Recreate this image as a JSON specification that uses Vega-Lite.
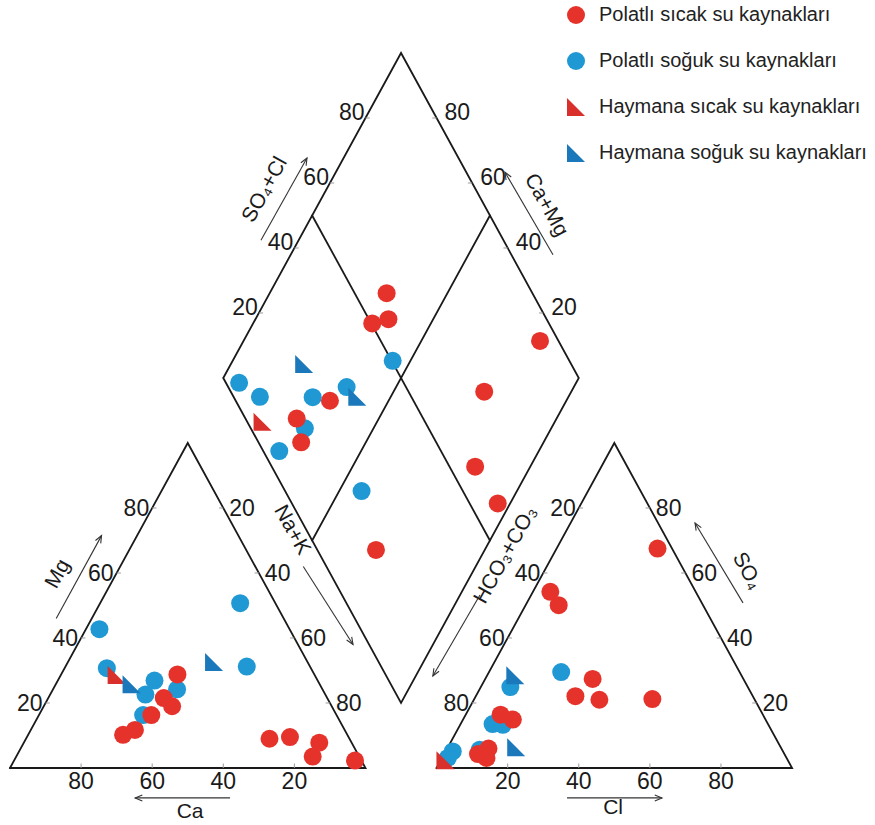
{
 "$schema": "https://vega.github.io/schema/vega-lite/v6.json",
 "width": 875, "height": 825, "padding": 0,
 "autosize": {"type": "fit", "contains": "padding"},
 "background": "white",
 "config": {"view": {"stroke": null}},
 "datasets": {
  "frame": [
   {"id":"cat","o":0,"p":"cat","a":0,"b":0},{"id":"cat","o":1,"p":"cat","a":100,"b":0},{"id":"cat","o":2,"p":"cat","a":0,"b":100},{"id":"cat","o":3,"p":"cat","a":0,"b":0},
   {"id":"an","o":0,"p":"an","a":0,"b":0},{"id":"an","o":1,"p":"an","a":100,"b":0},{"id":"an","o":2,"p":"an","a":0,"b":100},{"id":"an","o":3,"p":"an","a":0,"b":0},
   {"id":"dia","o":0,"p":"dia","a":0,"b":0},{"id":"dia","o":1,"p":"dia","a":100,"b":0},{"id":"dia","o":2,"p":"dia","a":100,"b":100},{"id":"dia","o":3,"p":"dia","a":0,"b":100},{"id":"dia","o":4,"p":"dia","a":0,"b":0},
   {"id":"d1","o":0,"p":"dia","a":50,"b":0},{"id":"d1","o":1,"p":"dia","a":50,"b":100},
   {"id":"d2","o":0,"p":"dia","a":0,"b":50},{"id":"d2","o":1,"p":"dia","a":100,"b":50}
  ],
  "lab": [
   {"p":"cat","e":"L","a":0,"b":20,"t":"20"},{"p":"cat","e":"L","a":0,"b":40,"t":"40"},{"p":"cat","e":"L","a":0,"b":60,"t":"60"},{"p":"cat","e":"L","a":0,"b":80,"t":"80"},
   {"p":"cat","e":"B","a":20,"b":0,"t":"80"},{"p":"cat","e":"B","a":40,"b":0,"t":"60"},{"p":"cat","e":"B","a":60,"b":0,"t":"40"},{"p":"cat","e":"B","a":80,"b":0,"t":"20"},
   {"p":"cat","e":"R","a":20,"b":80,"t":"20"},{"p":"cat","e":"R","a":40,"b":60,"t":"40"},{"p":"cat","e":"R","a":60,"b":40,"t":"60"},{"p":"cat","e":"R","a":80,"b":20,"t":"80"},
   {"p":"an","e":"L","a":0,"b":80,"t":"20"},{"p":"an","e":"L","a":0,"b":60,"t":"40"},{"p":"an","e":"L","a":0,"b":40,"t":"60"},{"p":"an","e":"L","a":0,"b":20,"t":"80"},
   {"p":"an","e":"B","a":20,"b":0,"t":"20"},{"p":"an","e":"B","a":40,"b":0,"t":"40"},{"p":"an","e":"B","a":60,"b":0,"t":"60"},{"p":"an","e":"B","a":80,"b":0,"t":"80"},
   {"p":"an","e":"R","a":20,"b":80,"t":"80"},{"p":"an","e":"R","a":40,"b":60,"t":"60"},{"p":"an","e":"R","a":60,"b":40,"t":"40"},{"p":"an","e":"R","a":80,"b":20,"t":"20"},
   {"p":"dia","e":"L","a":0,"b":20,"t":"20"},{"p":"dia","e":"L","a":0,"b":40,"t":"40"},{"p":"dia","e":"L","a":0,"b":60,"t":"60"},{"p":"dia","e":"L","a":0,"b":80,"t":"80"},
   {"p":"dia","e":"R","a":80,"b":100,"t":"20"},{"p":"dia","e":"R","a":60,"b":100,"t":"40"},{"p":"dia","e":"R","a":40,"b":100,"t":"60"},{"p":"dia","e":"R","a":20,"b":100,"t":"80"}
  ],
  "arrows": [
   {"p":"cat","a":-10,"b":46,"a2":-10,"b2":71.5},
   {"p":"cat","a":66.5,"b":-9.2,"a2":39.8,"b2":-9.2},
   {"p":"cat","a":51.5,"b":62,"a2":77.5,"b2":38},
   {"p":"an","a":-14.4,"b":53.2,"a2":-15.2,"b2":28.3},
   {"p":"an","a":60.8,"b":50.8,"a2":35.0,"b2":75.4},
   {"p":"an","a":41.3,"b":-9.2,"a2":68.0,"b2":-9.2},
   {"p":"dia","a":-10.6,"b":31.8,"a2":-10.3,"b2":57.4},
   {"p":"dia","a":73.8,"b":111.7,"a2":47.6,"b2":110.9}
  ],
  "pts": [
   {"p":"dia","g":"Polatlı soğuk su kaynakları","a":45.0,"b":50.3},
   {"p":"dia","g":"Polatlı soğuk su kaynakları","a":5.2,"b":3.7},
   {"p":"dia","g":"Polatlı soğuk su kaynakları","a":13.2,"b":7.4},
   {"p":"dia","g":"Polatlı soğuk su kaynakları","a":28.1,"b":22.2},
   {"p":"dia","g":"Polatlı soğuk su kaynakları","a":36.1,"b":33.3},
   {"p":"dia","g":"Polatlı soğuk su kaynakları","a":30.7,"b":15.2},
   {"p":"dia","g":"Polatlı soğuk su kaynakları","a":27.0,"b":4.5},
   {"p":"dia","g":"Polatlı soğuk su kaynakları","a":56.3,"b":21.5},
   {"p":"cat","g":"Polatlı soğuk su kaynakları","a":39.4,"b":50.7},
   {"p":"cat","g":"Polatlı soğuk su kaynakları","a":3.8,"b":42.7},
   {"p":"cat","g":"Polatlı soğuk su kaynakları","a":51.0,"b":31.2},
   {"p":"cat","g":"Polatlı soğuk su kaynakları","a":11.9,"b":30.7},
   {"p":"cat","g":"Polatlı soğuk su kaynakları","a":27.2,"b":26.9},
   {"p":"cat","g":"Polatlı soğuk su kaynakları","a":34.9,"b":24.2},
   {"p":"cat","g":"Polatlı soğuk su kaynakları","a":26.8,"b":22.6},
   {"p":"cat","g":"Polatlı soğuk su kaynakları","a":29.3,"b":16.3},
   {"p":"an","g":"Polatlı soğuk su kaynakları","a":20.3,"b":29.5},
   {"p":"an","g":"Polatlı soğuk su kaynakları","a":8.3,"b":24.9},
   {"p":"an","g":"Polatlı soğuk su kaynakları","a":9.0,"b":13.5},
   {"p":"an","g":"Polatlı soğuk su kaynakları","a":12.0,"b":13.3},
   {"p":"an","g":"Polatlı soğuk su kaynakları","a":9.3,"b":5.6},
   {"p":"an","g":"Polatlı soğuk su kaynakları","a":2.0,"b":5.1},
   {"p":"an","g":"Polatlı soğuk su kaynakları","a":1.6,"b":3.1},
   {"p":"dia","g":"Polatlı sıcak su kaynakları","a":32.9,"b":59.0},
   {"p":"dia","g":"Polatlı sıcak su kaynakları","a":37.4,"b":55.5},
   {"p":"dia","g":"Polatlı sıcak su kaynakları","a":33.5,"b":50.3},
   {"p":"dia","g":"Polatlı sıcak su kaynakları","a":33.5,"b":26.5},
   {"p":"dia","g":"Polatlı sıcak su kaynakları","a":26.9,"b":14.4},
   {"p":"dia","g":"Polatlı sıcak su kaynakları","a":31.8,"b":12.0},
   {"p":"dia","g":"Polatlı sıcak su kaynakları","a":83.4,"b":94.8},
   {"p":"dia","g":"Polatlı sıcak su kaynakları","a":75.5,"b":71.3},
   {"p":"dia","g":"Polatlı sıcak su kaynakları","a":84.5,"b":57.2},
   {"p":"dia","g":"Polatlı sıcak su kaynakları","a":96.5,"b":57.9},
   {"p":"dia","g":"Polatlı sıcak su kaynakları","a":69.4,"b":16.5},
   {"p":"cat","g":"Polatlı sıcak su kaynakları","a":32.7,"b":28.8},
   {"p":"cat","g":"Polatlı sıcak su kaynakları","a":32.5,"b":21.5},
   {"p":"cat","g":"Polatlı sıcak su kaynakları","a":36.1,"b":19.0},
   {"p":"cat","g":"Polatlı sıcak su kaynakları","a":31.6,"b":16.3},
   {"p":"cat","g":"Polatlı sıcak su kaynakları","a":29.3,"b":11.7},
   {"p":"cat","g":"Polatlı sıcak su kaynakları","a":26.7,"b":10.2},
   {"p":"cat","g":"Polatlı sıcak su kaynakları","a":68.5,"b":9.0},
   {"p":"cat","g":"Polatlı sıcak su kaynakları","a":74.0,"b":9.5},
   {"p":"cat","g":"Polatlı sıcak su kaynakları","a":83.1,"b":7.8},
   {"p":"cat","g":"Polatlı sıcak su kaynakları","a":83.4,"b":3.5},
   {"p":"cat","g":"Polatlı sıcak su kaynakları","a":95.9,"b":2.3},
   {"p":"an","g":"Polatlı sıcak su kaynakları","a":28.4,"b":67.5},
   {"p":"an","g":"Polatlı sıcak su kaynakları","a":4.9,"b":54.2},
   {"p":"an","g":"Polatlı sıcak su kaynakları","a":9.3,"b":50.1},
   {"p":"an","g":"Polatlı sıcak su kaynakları","a":30.2,"b":27.4},
   {"p":"an","g":"Polatlı sıcak su kaynakları","a":28.0,"b":22.1},
   {"p":"an","g":"Polatlı sıcak su kaynakları","a":35.3,"b":21.0},
   {"p":"an","g":"Polatlı sıcak su kaynakları","a":50.1,"b":21.2},
   {"p":"an","g":"Polatlı sıcak su kaynakları","a":9.8,"b":16.4},
   {"p":"an","g":"Polatlı sıcak su kaynakları","a":14.0,"b":14.9},
   {"p":"an","g":"Polatlı sıcak su kaynakları","a":9.5,"b":4.3},
   {"p":"an","g":"Polatlı sıcak su kaynakları","a":11.6,"b":6.0},
   {"p":"an","g":"Polatlı sıcak su kaynakları","a":12.5,"b":3.1},
   {"p":"dia","g":"Haymana sıcak su kaynakları","a":17.8,"b":4.3},
   {"p":"cat","g":"Haymana sıcak su kaynakları","a":15.7,"b":28.6},
   {"p":"an","g":"Haymana sıcak su kaynakları","a":1.3,"b":2.4},
   {"p":"dia","g":"Haymana soğuk su kaynakları","a":20.6,"b":24.9},
   {"p":"dia","g":"Haymana soğuk su kaynakları","a":40.6,"b":34.8},
   {"p":"cat","g":"Haymana soğuk su kaynakları","a":41.1,"b":32.6},
   {"p":"cat","g":"Haymana soğuk su kaynakları","a":21.3,"b":25.8},
   {"p":"an","g":"Haymana soğuk su kaynakları","a":7.9,"b":28.5},
   {"p":"an","g":"Haymana soğuk su kaynakları","a":19.2,"b":6.4}
  ]
 },
 "layer": [
  {
   "data": {"name": "frame"},
   "transform": [
    {"calculate": "datum.p=='cat' ? datum.a+datum.b/2 : (datum.p=='an' ? 120+datum.a+datum.b/2 : 60+(datum.a+datum.b)/2)", "as": "X"},
    {"calculate": "datum.p=='dia' ? 0.866*(120+datum.b-datum.a) : 0.866*datum.b", "as": "Y"}
   ],
   "mark": {"type": "line", "color": "#1a1a1a", "strokeWidth": 1.8, "strokeJoin": "miter", "strokeCap": "square"},
   "encoding": {
    "x": {"field": "X", "type": "quantitative", "scale": {"domain": [-2.813, 243.33], "nice": false, "zero": false}, "axis": null},
    "y": {"field": "Y", "type": "quantitative", "scale": {"domain": [-15.19, 204.64], "nice": false, "zero": false}, "axis": null},
    "detail": {"field": "id"},
    "order": {"field": "o", "type": "quantitative"}
   }
  },
  {
   "data": {"name": "lab"},
   "transform": [
    {"calculate": "datum.p=='cat' ? datum.a+datum.b/2 : (datum.p=='an' ? 120+datum.a+datum.b/2 : 60+(datum.a+datum.b)/2)", "as": "X"},
    {"calculate": "datum.p=='dia' ? 0.866*(120+datum.b-datum.a) : 0.866*datum.b", "as": "Y"},
    {"calculate": "datum.X + (datum.e=='L' ? 1.2 : (datum.e=='R' ? -1.2 : 0))", "as": "TX"},
    {"calculate": "datum.Y + (datum.e=='B' ? 1.2 : 0)", "as": "TY"}
   ],
   "mark": {"type": "rule", "color": "#9a9a9a", "strokeWidth": 1},
   "encoding": {
    "x": {"field": "X", "type": "quantitative", "scale": {"domain": [-2.813, 243.33], "nice": false, "zero": false}, "axis": null},
    "y": {"field": "Y", "type": "quantitative", "scale": {"domain": [-15.19, 204.64], "nice": false, "zero": false}, "axis": null},
    "x2": {"field": "TX"},
    "y2": {"field": "TY"}
   }
  },
  {
   "data": {"name": "lab"},
   "transform": [
    {"filter": "datum.p!='dia' && datum.e=='L'"},
    {"calculate": "datum.p=='cat' ? datum.a+datum.b/2 : 120+datum.a+datum.b/2", "as": "X"},
    {"calculate": "0.866*datum.b", "as": "Y"}
   ],
   "mark": {"type": "text", "align": "right", "baseline": "middle", "dx": -3, "dy": 1, "font": "Liberation Sans", "fontSize": 23, "color": "#1a1a1a"},
   "encoding": {
    "x": {"field": "X", "type": "quantitative", "scale": {"domain": [-2.813, 243.33], "nice": false, "zero": false}, "axis": null},
    "y": {"field": "Y", "type": "quantitative", "scale": {"domain": [-15.19, 204.64], "nice": false, "zero": false}, "axis": null},
    "text": {"field": "t"}
   }
  },
  {
   "data": {"name": "lab"},
   "transform": [
    {"filter": "datum.p!='dia' && datum.e=='R'"},
    {"calculate": "datum.p=='cat' ? datum.a+datum.b/2 : 120+datum.a+datum.b/2", "as": "X"},
    {"calculate": "0.866*datum.b", "as": "Y"}
   ],
   "mark": {"type": "text", "align": "left", "baseline": "middle", "dx": 6, "dy": 1, "font": "Liberation Sans", "fontSize": 23, "color": "#1a1a1a"},
   "encoding": {
    "x": {"field": "X", "type": "quantitative", "scale": {"domain": [-2.813, 243.33], "nice": false, "zero": false}, "axis": null},
    "y": {"field": "Y", "type": "quantitative", "scale": {"domain": [-15.19, 204.64], "nice": false, "zero": false}, "axis": null},
    "text": {"field": "t"}
   }
  },
  {
   "data": {"name": "lab"},
   "transform": [
    {"filter": "datum.e=='B'"},
    {"calculate": "datum.p=='cat' ? datum.a+datum.b/2 : 120+datum.a+datum.b/2", "as": "X"},
    {"calculate": "0.866*datum.b", "as": "Y"}
   ],
   "mark": {"type": "text", "align": "center", "baseline": "middle", "dy": 14, "font": "Liberation Sans", "fontSize": 23, "color": "#1a1a1a"},
   "encoding": {
    "x": {"field": "X", "type": "quantitative", "scale": {"domain": [-2.813, 243.33], "nice": false, "zero": false}, "axis": null},
    "y": {"field": "Y", "type": "quantitative", "scale": {"domain": [-15.19, 204.64], "nice": false, "zero": false}, "axis": null},
    "text": {"field": "t"}
   }
  },
  {
   "data": {"name": "lab"},
   "transform": [
    {"filter": "datum.p=='dia' && datum.e=='L'"},
    {"calculate": "60+(datum.a+datum.b)/2", "as": "X"},
    {"calculate": "0.866*(120+datum.b-datum.a)", "as": "Y"}
   ],
   "mark": {"type": "text", "align": "right", "baseline": "middle", "dx": -1, "dy": -5, "font": "Liberation Sans", "fontSize": 23, "color": "#1a1a1a"},
   "encoding": {
    "x": {"field": "X", "type": "quantitative", "scale": {"domain": [-2.813, 243.33], "nice": false, "zero": false}, "axis": null},
    "y": {"field": "Y", "type": "quantitative", "scale": {"domain": [-15.19, 204.64], "nice": false, "zero": false}, "axis": null},
    "text": {"field": "t"}
   }
  },
  {
   "data": {"name": "lab"},
   "transform": [
    {"filter": "datum.p=='dia' && datum.e=='R'"},
    {"calculate": "60+(datum.a+datum.b)/2", "as": "X"},
    {"calculate": "0.866*(120+datum.b-datum.a)", "as": "Y"}
   ],
   "mark": {"type": "text", "align": "left", "baseline": "middle", "dx": 8, "dy": -5, "font": "Liberation Sans", "fontSize": 23, "color": "#1a1a1a"},
   "encoding": {
    "x": {"field": "X", "type": "quantitative", "scale": {"domain": [-2.813, 243.33], "nice": false, "zero": false}, "axis": null},
    "y": {"field": "Y", "type": "quantitative", "scale": {"domain": [-15.19, 204.64], "nice": false, "zero": false}, "axis": null},
    "text": {"field": "t"}
   }
  },
  {
   "data": {"values": [
    {"p":"cat","a":-16.3,"b":59.7,"t":"Mg"},
    {"p":"an","a":-13.3,"b":65.5,"t":"HCO₃+CO₃"},
    {"p":"dia","a":-17.2,"b":40.7,"t":"SO₄+Cl"}
   ]},
   "transform": [
    {"calculate": "datum.p=='cat' ? datum.a+datum.b/2 : (datum.p=='an' ? 120+datum.a+datum.b/2 : 60+(datum.a+datum.b)/2)", "as": "X"},
    {"calculate": "datum.p=='dia' ? 0.866*(120+datum.b-datum.a) : 0.866*datum.b", "as": "Y"}
   ],
   "mark": {"type": "text", "align": "center", "baseline": "middle", "angle": -61, "font": "Liberation Sans", "fontSize": 21, "color": "#1a1a1a"},
   "encoding": {
    "x": {"field": "X", "type": "quantitative", "scale": {"domain": [-2.813, 243.33], "nice": false, "zero": false}, "axis": null},
    "y": {"field": "Y", "type": "quantitative", "scale": {"domain": [-15.19, 204.64], "nice": false, "zero": false}, "axis": null},
    "text": {"field": "t"}
   }
  },
  {
   "data": {"values": [
    {"p":"cat","a":42.7,"b":73.2,"t":"Na+K"},
    {"p":"an","a":57.0,"b":60.6,"t":"SO₄"},
    {"p":"dia","a":64.2,"b":117.4,"t":"Ca+Mg"}
   ]},
   "transform": [
    {"calculate": "datum.p=='cat' ? datum.a+datum.b/2 : (datum.p=='an' ? 120+datum.a+datum.b/2 : 60+(datum.a+datum.b)/2)", "as": "X"},
    {"calculate": "datum.p=='dia' ? 0.866*(120+datum.b-datum.a) : 0.866*datum.b", "as": "Y"}
   ],
   "mark": {"type": "text", "align": "center", "baseline": "middle", "angle": 61, "font": "Liberation Sans", "fontSize": 21, "color": "#1a1a1a"},
   "encoding": {
    "x": {"field": "X", "type": "quantitative", "scale": {"domain": [-2.813, 243.33], "nice": false, "zero": false}, "axis": null},
    "y": {"field": "Y", "type": "quantitative", "scale": {"domain": [-15.19, 204.64], "nice": false, "zero": false}, "axis": null},
    "text": {"field": "t"}
   }
  },
  {
   "data": {"values": [
    {"p":"cat","a":57.4,"b":-13.5,"t":"Ca"},
    {"p":"an","a":55.8,"b":-12.3,"t":"Cl"}
   ]},
   "transform": [
    {"calculate": "datum.p=='cat' ? datum.a+datum.b/2 : 120+datum.a+datum.b/2", "as": "X"},
    {"calculate": "0.866*datum.b", "as": "Y"}
   ],
   "mark": {"type": "text", "align": "center", "baseline": "middle", "font": "Liberation Sans", "fontSize": 21, "color": "#1a1a1a"},
   "encoding": {
    "x": {"field": "X", "type": "quantitative", "scale": {"domain": [-2.813, 243.33], "nice": false, "zero": false}, "axis": null},
    "y": {"field": "Y", "type": "quantitative", "scale": {"domain": [-15.19, 204.64], "nice": false, "zero": false}, "axis": null},
    "text": {"field": "t"}
   }
  },
  {
   "data": {"name": "arrows"},
   "transform": [
    {"calculate": "datum.p=='cat' ? datum.a+datum.b/2 : (datum.p=='an' ? 120+datum.a+datum.b/2 : 60+(datum.a+datum.b)/2)", "as": "X"},
    {"calculate": "datum.p=='dia' ? 0.866*(120+datum.b-datum.a) : 0.866*datum.b", "as": "Y"},
    {"calculate": "datum.p=='cat' ? datum.a2+datum.b2/2 : (datum.p=='an' ? 120+datum.a2+datum.b2/2 : 60+(datum.a2+datum.b2)/2)", "as": "X2"},
    {"calculate": "datum.p=='dia' ? 0.866*(120+datum.b2-datum.a2) : 0.866*datum.b2", "as": "Y2"}
   ],
   "mark": {"type": "rule", "color": "#333333", "strokeWidth": 1.1},
   "encoding": {
    "x": {"field": "X", "type": "quantitative", "scale": {"domain": [-2.813, 243.33], "nice": false, "zero": false}, "axis": null},
    "y": {"field": "Y", "type": "quantitative", "scale": {"domain": [-15.19, 204.64], "nice": false, "zero": false}, "axis": null},
    "x2": {"field": "X2"},
    "y2": {"field": "Y2"}
   }
  },
  {
   "data": {"name": "arrows"},
   "transform": [
    {"calculate": "datum.p=='cat' ? datum.a+datum.b/2 : (datum.p=='an' ? 120+datum.a+datum.b/2 : 60+(datum.a+datum.b)/2)", "as": "X"},
    {"calculate": "datum.p=='dia' ? 0.866*(120+datum.b-datum.a) : 0.866*datum.b", "as": "Y"},
    {"calculate": "datum.p=='cat' ? datum.a2+datum.b2/2 : (datum.p=='an' ? 120+datum.a2+datum.b2/2 : 60+(datum.a2+datum.b2)/2)", "as": "X2"},
    {"calculate": "datum.p=='dia' ? 0.866*(120+datum.b2-datum.a2) : 0.866*datum.b2", "as": "Y2"},
    {"calculate": "atan2((datum.X2-datum.X)*3.555, (datum.Y2-datum.Y)*3.753)*180/PI", "as": "ang"}
   ],
   "mark": {"type": "point", "shape": "M-0.5,1.2L0,0L0.5,1.2", "filled": false, "stroke": "#333333", "strokeWidth": 1.1, "size": 144, "opacity": 1},
   "encoding": {
    "x": {"field": "X2", "type": "quantitative", "scale": {"domain": [-2.813, 243.33], "nice": false, "zero": false}, "axis": null},
    "y": {"field": "Y2", "type": "quantitative", "scale": {"domain": [-15.19, 204.64], "nice": false, "zero": false}, "axis": null},
    "angle": {"field": "ang", "type": "quantitative", "scale": null}
   }
  },
  {
   "data": {"name": "pts"},
   "transform": [
    {"calculate": "datum.p=='cat' ? datum.a+datum.b/2 : (datum.p=='an' ? 120+datum.a+datum.b/2 : 60+(datum.a+datum.b)/2)", "as": "X"},
    {"calculate": "datum.p=='dia' ? 0.866*(120+datum.b-datum.a) : 0.866*datum.b", "as": "Y"}
   ],
   "mark": {"type": "point", "filled": true, "size": 324, "opacity": 1, "strokeWidth": 0},
   "encoding": {
    "x": {"field": "X", "type": "quantitative", "scale": {"domain": [-2.813, 243.33], "nice": false, "zero": false}, "axis": null},
    "y": {"field": "Y", "type": "quantitative", "scale": {"domain": [-15.19, 204.64], "nice": false, "zero": false}, "axis": null},
    "color": {
     "field": "g", "type": "nominal",
     "scale": {"domain": ["Polatlı sıcak su kaynakları", "Polatlı soğuk su kaynakları", "Haymana sıcak su kaynakları", "Haymana soğuk su kaynakları"], "range": ["#e5332b", "#1f98d4", "#d9302b", "#1a78bb"]},
     "legend": {"orient": "none", "legendX": 566, "legendY": 5, "direction": "vertical", "title": null, "padding": 0, "labelFont": "Liberation Sans", "labelFontSize": 20, "labelColor": "#222222", "labelLimit": 400, "symbolSize": 324, "rowPadding": 26, "labelOffset": 13, "symbolStrokeWidth": 0}
    },
    "shape": {
     "field": "g", "type": "nominal",
     "scale": {"domain": ["Polatlı sıcak su kaynakları", "Polatlı soğuk su kaynakları", "Haymana sıcak su kaynakları", "Haymana soğuk su kaynakları"], "range": ["circle", "circle", "M-1,-1L-1,1L1,1Z", "M-1,-1L-1,1L1,1Z"]},
     "legend": {"orient": "none", "legendX": 566, "legendY": 5, "direction": "vertical", "title": null, "padding": 0, "labelFont": "Liberation Sans", "labelFontSize": 20, "labelColor": "#222222", "labelLimit": 400, "symbolSize": 324, "rowPadding": 26, "labelOffset": 13, "symbolStrokeWidth": 0}
    }
   }
  }
 ]
}
